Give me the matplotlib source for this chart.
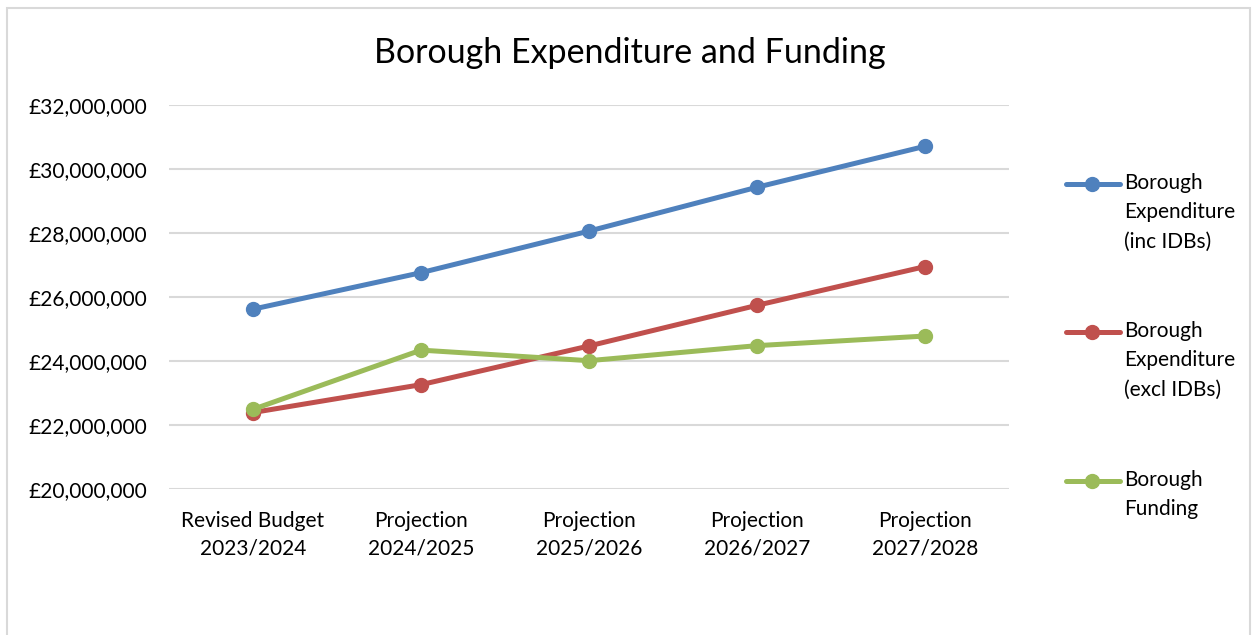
import matplotlib.pyplot as plt
from matplotlib.lines import Line2D
from matplotlib.patches import Rectangle
from matplotlib.ticker import FuncFormatter

plt.rcParams['font.family'] = ['Lato', 'DejaVu Sans']

# data
categories = ['Revised Budget\n2023/2024', 'Projection\n2024/2025', 'Projection\n2025/2026',
              'Projection\n2026/2027', 'Projection\n2027/2028']
exp_inc_idbs = [25620000, 26760000, 28060000, 29430000, 30710000]
exp_excl_idbs = [22390000, 23260000, 24470000, 25740000, 26950000]
funding = [22490000, 24340000, 24010000, 24480000, 24780000]

series_labels = ['Borough\nExpenditure\n(inc IDBs)', 'Borough\nExpenditure\n(excl IDBs)', 'Borough\nFunding']
colors = ['#4F81BD', '#C0504D', '#9BBB59']

W, H = 1254, 635
fig = plt.figure(figsize=(W / 100, H / 100), dpi=100)
ax = fig.add_axes([169 / W, 1 - 489 / H, (1009 - 169) / W, (489 - 105) / H])

x = range(len(categories))
for vals, c, lab in zip([exp_inc_idbs, exp_excl_idbs, funding], colors, series_labels):
    ax.plot(x, vals, color=c, linewidth=3.6, marker='o', markersize=10, label=lab,
            solid_capstyle='round', zorder=3)

ax.set_xlim(-0.5, len(categories) - 0.5)
ax.set_ylim(20000000, 32000000)
ax.set_yticks(range(20000000, 32000001, 2000000))
ax.yaxis.set_major_formatter(FuncFormatter(lambda v, p: f'£{v:,.0f}'))
ax.set_xticks(list(x))
ax.set_xticklabels(categories, linespacing=1.45)
ax.tick_params(axis='y', length=0, pad=16, labelsize=15)
ax.tick_params(axis='x', length=0, pad=16, labelsize=15)
ax.grid(axis='y', color='#D9D9D9', linewidth=1.5)
ax.set_axisbelow(True)
for s in ax.spines.values():
    s.set_visible(False)

fig.text(630 / W, 1 - 53 / H, 'Borough Expenditure and Funding', ha='center', va='center', fontsize=24.5)

# legend drawn by hand so the marker sits on the first line of each label
for line, ly in zip(ax.get_lines(), [184, 332, 481]):
    fy = 1 - ly / H
    fig.add_artist(Line2D([1066 / W, 1120 / W], [fy, fy], color=line.get_color(), linewidth=3.6,
                          solid_capstyle='round'))
    fig.add_artist(Line2D([1092 / W], [fy], color=line.get_color(), marker='o', markersize=10))
    fig.text(1124 / W, 1 - (ly - 11) / H, line.get_label(), ha='left', va='top',
             fontsize=15, linespacing=1.58)

# chart area border
fig.add_artist(Rectangle((7 / W, -0.1), (1250 - 7) / W, 1.1 - 8 / H, fill=False,
                         edgecolor='#D9D9D9', linewidth=1.5))

fig.savefig('out.png', dpi=100)
